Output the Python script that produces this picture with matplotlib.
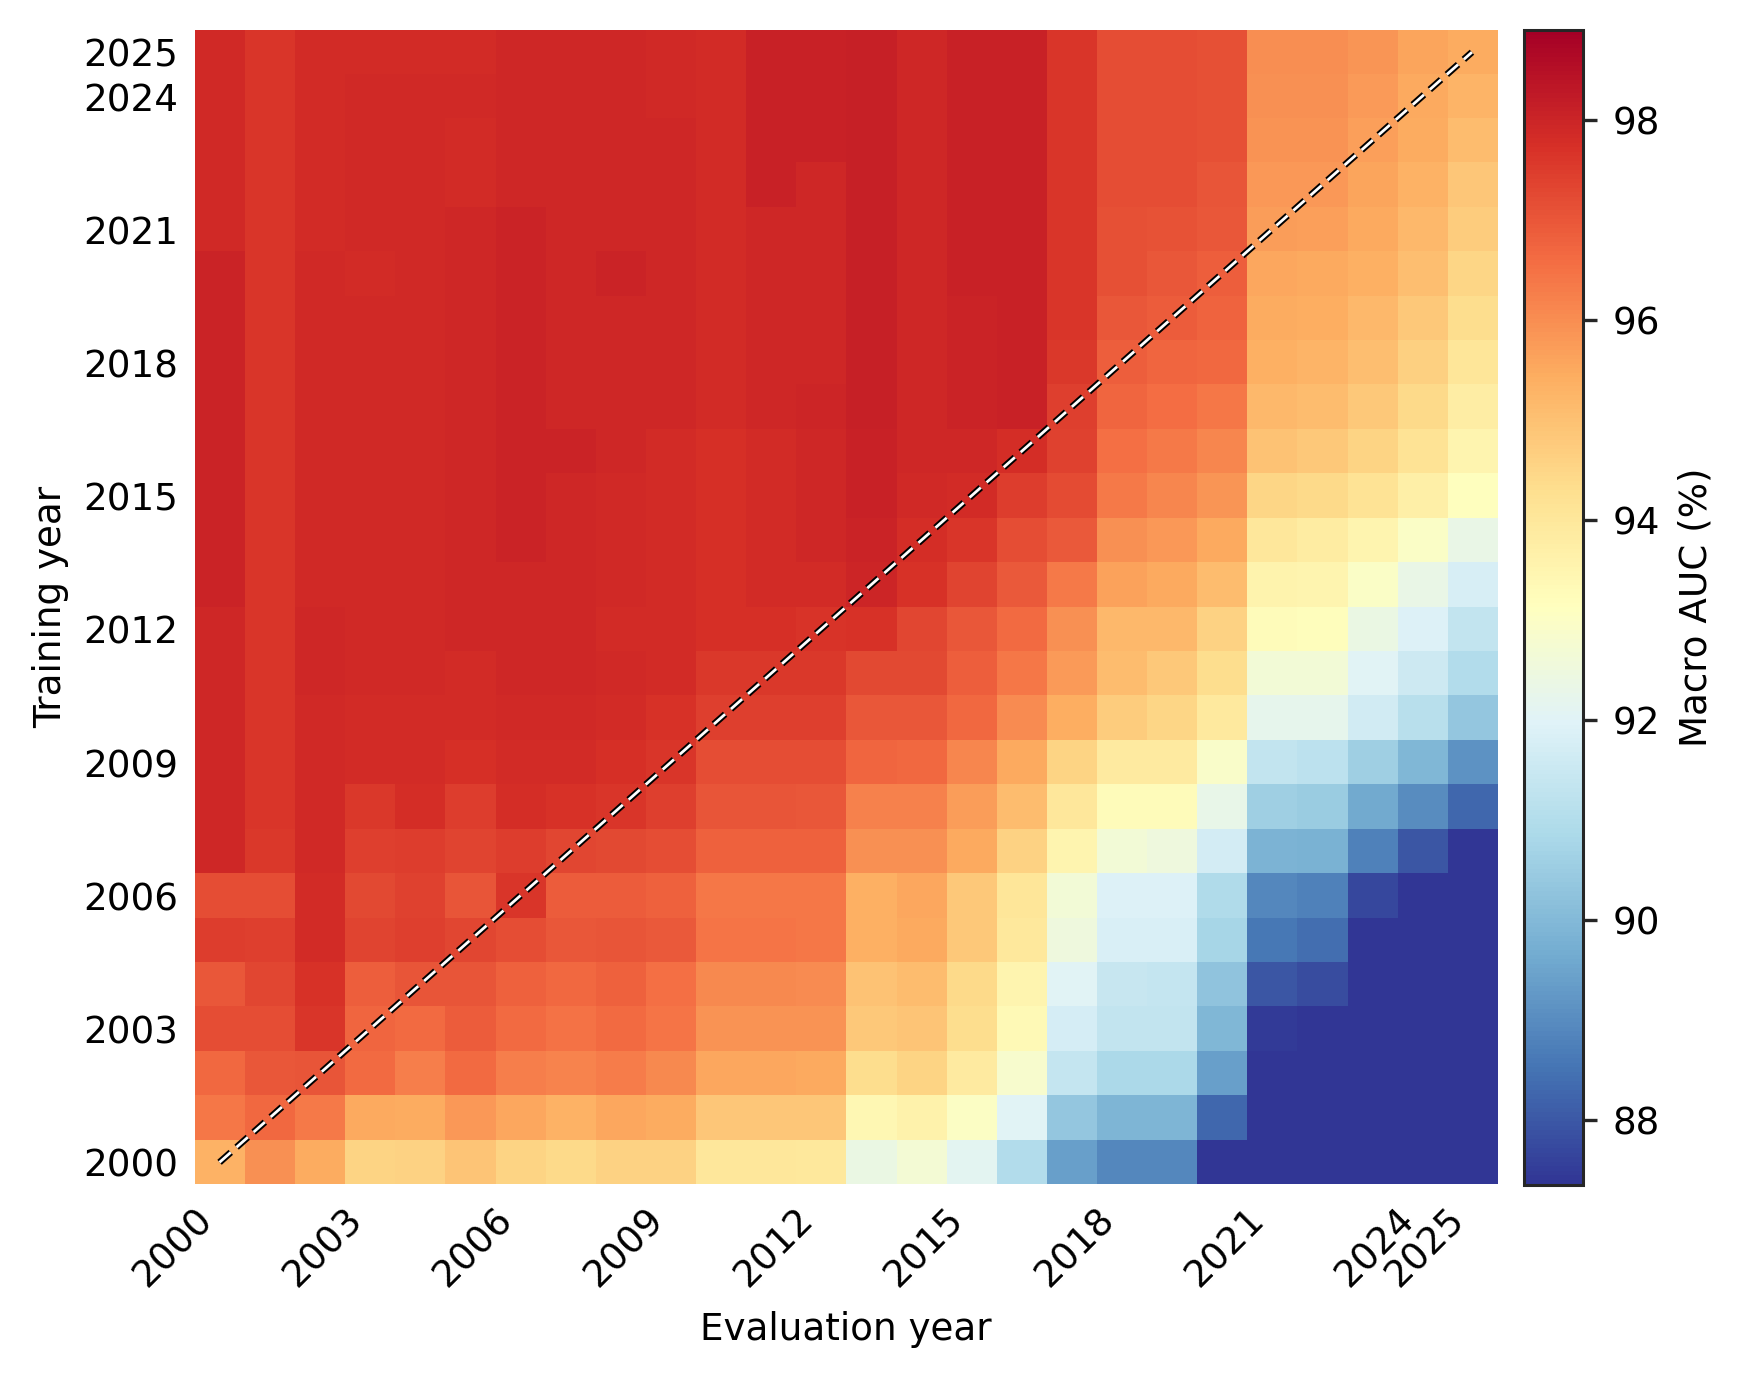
import matplotlib

matplotlib.use("Agg")
import matplotlib.patheffects as pe
import matplotlib.pyplot as plt
import numpy as np

# anos de treino (linhas) e de avaliacao (colunas)
anos = list(range(2000, 2026))
anos_rotulo = [2000, 2003, 2006, 2009, 2012, 2015, 2018, 2021, 2024, 2025]

# Macro AUC (%) por ano de treino, colunas = ano de avaliacao 2000..2025
auc_treino_2000 = [95.3, 95.95, 95.45, 94.55, 94.6, 94.9, 94.55, 94.4, 94.6, 94.6, 94.0, 94.0, 93.95,
                   92.4, 92.7, 92.1, 90.97, 89.4, 88.9, 88.9, 87.2, 86.0, 85.6, 85.0, 84.5, 84.0]
auc_treino_2001 = [96.4, 96.67, 96.35, 95.5, 95.45, 95.8, 95.55, 95.3, 95.55, 95.45, 94.88, 94.88, 94.85,
                   93.4, 93.6, 93.0, 92.0, 90.37, 89.9, 89.9, 88.27, 86.3, 86.0, 85.4, 84.9, 84.5]
auc_treino_2002 = [96.67, 97.0, 97.05, 96.6, 96.25, 96.6, 96.28, 96.15, 96.32, 96.1, 95.55, 95.55, 95.5,
                   94.33, 94.55, 93.87, 92.85, 91.4, 90.85, 90.85, 89.4, 86.9, 86.5, 85.8, 85.3, 85.0]
auc_treino_2003 = [97.18, 97.18, 97.6, 96.7, 96.6, 96.88, 96.6, 96.5, 96.6, 96.45, 95.9, 95.9, 95.88,
                   94.83, 94.9, 94.33, 93.31, 91.77, 91.35, 91.33, 89.95, 87.45, 86.9, 86.2, 85.8, 85.5]
auc_treino_2004 = [97.0, 97.3, 97.72, 96.86, 97.05, 97.05, 96.78, 96.67, 96.78, 96.55, 96.07, 96.07, 96.05,
                   94.95, 95.07, 94.42, 93.5, 92.0, 91.45, 91.4, 90.27, 87.98, 87.8, 86.6, 86.2, 86.0]
auc_treino_2005 = [97.5, 97.42, 97.82, 97.33, 97.42, 97.3, 97.18, 97.0, 97.05, 96.95, 96.42, 96.42, 96.4,
                   95.38, 95.5, 94.83, 93.97, 92.5, 91.83, 91.83, 90.75, 88.57, 88.4, 87.0, 86.8, 86.6]
auc_treino_2006 = [97.18, 97.18, 97.82, 97.25, 97.38, 97.05, 97.6, 96.9, 96.9, 96.8, 96.4, 96.4, 96.4,
                   95.38, 95.53, 94.83, 94.06, 92.65, 91.93, 91.93, 90.92, 88.9, 88.78, 87.7, 87.0, 86.9]
auc_treino_2007 = [97.95, 97.55, 97.9, 97.42, 97.5, 97.35, 97.5, 97.3, 97.25, 97.18, 96.8, 96.8, 96.78,
                   95.95, 95.95, 95.5, 94.6, 93.5, 92.65, 92.5, 91.7, 89.85, 89.8, 88.78, 87.98, 87.1]
auc_treino_2008 = [97.95, 97.6, 97.9, 97.55, 97.8, 97.5, 97.8, 97.7, 97.6, 97.42, 97.02, 97.02, 97.0,
                   96.22, 96.22, 95.72, 95.1, 93.99, 93.25, 93.25, 92.3, 90.58, 90.47, 89.65, 89.0, 88.27]
auc_treino_2009 = [97.95, 97.6, 97.9, 97.82, 97.82, 97.75, 97.82, 97.82, 97.75, 97.6, 97.18, 97.18, 97.15,
                   96.7, 96.65, 96.13, 95.5, 94.55, 93.87, 93.87, 92.9, 91.35, 91.23, 90.58, 89.95, 89.14]
auc_treino_2010 = [97.95, 97.6, 97.9, 97.82, 97.82, 97.82, 97.9, 97.9, 97.82, 97.7, 97.45, 97.45, 97.42,
                   97.0, 97.0, 96.67, 96.04, 95.41, 94.72, 94.5, 93.9, 92.2, 92.2, 91.65, 91.1, 90.37]
auc_treino_2011 = [97.95, 97.6, 97.95, 97.9, 97.9, 97.82, 97.95, 97.95, 97.9, 97.82, 97.57, 97.57, 97.55,
                   97.25, 97.25, 96.86, 96.4, 95.78, 95.07, 94.83, 94.33, 92.65, 92.65, 92.0, 91.55, 91.0]
auc_treino_2012 = [97.95, 97.6, 97.95, 97.9, 97.9, 97.95, 97.95, 97.95, 97.82, 97.82, 97.75, 97.75, 97.65,
                   97.71, 97.3, 97.0, 96.6, 95.95, 95.18, 95.18, 94.6, 93.25, 93.2, 92.4, 91.93, 91.35]
auc_treino_2013 = [98.0, 97.6, 97.9, 97.9, 97.9, 97.92, 97.95, 97.92, 97.9, 97.82, 97.75, 97.82, 97.82,
                   97.98, 97.7, 97.33, 96.93, 96.35, 95.65, 95.5, 95.07, 93.57, 93.5, 92.95, 92.35, 91.8]
auc_treino_2014 = [98.0, 97.6, 97.9, 97.9, 97.9, 97.92, 98.0, 97.92, 97.9, 97.82, 97.75, 97.82, 97.92,
                   98.0, 97.8, 97.6, 97.18, 96.93, 95.95, 95.83, 95.5, 93.99, 93.84, 93.5, 92.95, 92.35]
auc_treino_2015 = [98.0, 97.6, 97.9, 97.9, 97.9, 97.92, 98.0, 97.92, 97.9, 97.82, 97.75, 97.82, 97.92,
                   98.05, 97.9, 97.85, 97.5, 97.2, 96.33, 96.13, 95.86, 94.49, 94.42, 94.13, 93.69, 93.13]
auc_treino_2016 = [98.0, 97.6, 97.9, 97.9, 97.9, 97.92, 98.0, 98.0, 97.92, 97.82, 97.75, 97.82, 97.92,
                   98.06, 97.94, 97.94, 97.8, 97.4, 96.53, 96.37, 96.13, 94.95, 94.83, 94.56, 94.13, 93.5]
auc_treino_2017 = [98.0, 97.6, 97.9, 97.9, 97.9, 97.92, 98.0, 97.92, 97.92, 97.92, 97.82, 97.92, 97.97,
                   98.1, 97.94, 98.02, 98.05, 97.45, 96.72, 96.57, 96.39, 95.18, 95.07, 94.83, 94.42, 93.76]
auc_treino_2018 = [98.0, 97.6, 97.9, 97.9, 97.9, 97.92, 98.0, 97.92, 97.92, 97.92, 97.82, 97.92, 97.92,
                   98.1, 97.94, 98.02, 98.05, 97.55, 96.86, 96.72, 96.67, 95.34, 95.25, 95.02, 94.65, 94.06]
auc_treino_2019 = [98.0, 97.6, 97.9, 97.9, 97.9, 97.92, 98.0, 97.92, 97.92, 97.92, 97.82, 97.92, 97.92,
                   98.1, 97.94, 98.04, 98.06, 97.6, 97.0, 96.88, 96.76, 95.45, 95.41, 95.18, 94.83, 94.33]
auc_treino_2020 = [98.0, 97.6, 97.9, 97.82, 97.9, 97.92, 98.0, 97.92, 98.0, 97.92, 97.82, 97.92, 97.92,
                   98.1, 97.94, 98.06, 98.08, 97.6, 97.1, 97.0, 96.86, 95.53, 95.5, 95.34, 95.02, 94.49]
auc_treino_2021 = [97.9, 97.6, 97.85, 97.9, 97.9, 97.92, 98.0, 97.92, 97.92, 97.92, 97.82, 97.92, 97.92,
                   98.12, 97.94, 98.06, 98.08, 97.6, 97.1, 97.08, 97.0, 95.72, 95.69, 95.5, 95.18, 94.72]
auc_treino_2022 = [97.9, 97.6, 97.85, 97.9, 97.9, 97.82, 97.92, 97.92, 97.92, 97.92, 97.82, 98.06, 97.92,
                   98.12, 97.94, 98.06, 98.08, 97.6, 97.18, 97.18, 97.02, 95.83, 95.83, 95.6, 95.3, 94.88]
auc_treino_2023 = [97.9, 97.6, 97.85, 97.9, 97.9, 97.82, 97.92, 97.92, 97.92, 97.92, 97.82, 98.06, 98.06,
                   98.12, 97.94, 98.06, 98.08, 97.6, 97.18, 97.18, 97.1, 95.9, 95.9, 95.69, 95.45, 95.07]
auc_treino_2024 = [97.9, 97.6, 97.82, 97.9, 97.9, 97.9, 97.92, 97.92, 97.92, 97.88, 97.82, 98.06, 98.06,
                   98.12, 97.94, 98.06, 98.08, 97.6, 97.18, 97.18, 97.1, 95.95, 95.95, 95.78, 95.5, 95.25]
auc_treino_2025 = [97.9, 97.6, 97.82, 97.82, 97.85, 97.85, 97.92, 97.92, 97.92, 97.88, 97.82, 98.06, 98.06,
                   98.12, 97.94, 98.06, 98.08, 97.6, 97.18, 97.18, 97.1, 96.0, 96.0, 95.86, 95.6, 95.45]

matriz_auc = np.array([
    auc_treino_2000, auc_treino_2001, auc_treino_2002, auc_treino_2003, auc_treino_2004,
    auc_treino_2005, auc_treino_2006, auc_treino_2007, auc_treino_2008, auc_treino_2009,
    auc_treino_2010, auc_treino_2011, auc_treino_2012, auc_treino_2013, auc_treino_2014,
    auc_treino_2015, auc_treino_2016, auc_treino_2017, auc_treino_2018, auc_treino_2019,
    auc_treino_2020, auc_treino_2021, auc_treino_2022, auc_treino_2023, auc_treino_2024,
    auc_treino_2025,
])

TAM_FONTE = 13.4
LARGURA, ALTURA, DPI = 1744, 1378, 200

fig = plt.figure(figsize=(LARGURA / DPI, ALTURA / DPI), dpi=DPI)
ax = fig.add_axes([194.5 / LARGURA, 1 - 1184.5 / ALTURA, 1302.5 / LARGURA, 1154.5 / ALTURA])
cax = fig.add_axes([1524 / LARGURA, 1 - 1184.5 / ALTURA, 59 / LARGURA, 1154.5 / ALTURA])

im = ax.imshow(
    matriz_auc,
    cmap="RdYlBu_r",
    vmin=87.35,
    vmax=98.9,
    origin="lower",
    aspect="auto",
    interpolation="nearest",
    extent=(anos[0] - 0.5, anos[-1] + 0.5, anos[0] - 0.5, anos[-1] + 0.5),
)

# diagonal treino == avaliacao
ax.plot(
    [anos[0], anos[-1]],
    [anos[0], anos[-1]],
    color="white",
    lw=1.0,
    dashes=(5.4, 2.8),
    path_effects=[pe.Stroke(linewidth=2.4, foreground="black"), pe.Normal()],
)

for lado in ax.spines.values():
    lado.set_visible(False)

ax.set_xticks(anos_rotulo)
ax.set_yticks(anos_rotulo)
ax.set_xticklabels([str(a) for a in anos_rotulo], rotation=45, ha="right")
ax.set_yticklabels([str(a) for a in anos_rotulo])
ax.tick_params(length=0, pad=6, labelsize=TAM_FONTE)
ax.set_xlabel("Evaluation year", fontsize=TAM_FONTE, labelpad=6)
ax.set_ylabel("Training year", fontsize=TAM_FONTE, labelpad=5)

cb = fig.colorbar(im, cax=cax)
cb.outline.set_edgecolor("0.15")
cb.outline.set_linewidth(1.1)
cb.set_ticks([88, 90, 92, 94, 96, 98])
cb.ax.tick_params(length=5, width=1.2, color="0.15", labelsize=TAM_FONTE, pad=5.5)
cb.set_label("Macro AUC (%)", fontsize=TAM_FONTE, labelpad=6.5)

fig.savefig("out.png", dpi=DPI)
